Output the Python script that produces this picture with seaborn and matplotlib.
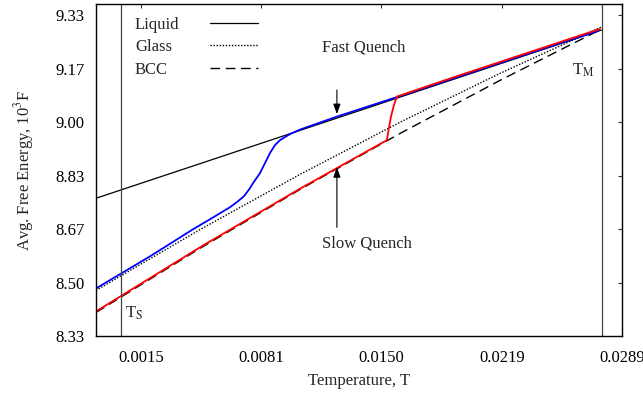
import numpy as np
import matplotlib
matplotlib.use('Agg')
import matplotlib.pyplot as plt
import matplotlib.ticker as mticker
from matplotlib.lines import Line2D
import seaborn as sns

# === data ===
# liquid free energy (straight extrapolation)
liq_T = [-0.001062, 0.01266, 0.02775]
liq_F = [8.7630, 9.0130, 9.2880]

# glass free energy
glass_T = [-0.001062, 0.004859, 0.010553, 0.016247, 0.021941, 0.027806]
glass_F = [8.4755, 8.6652, 8.8374, 8.9999, 9.1524, 9.2992]

# bcc free energy
bcc_T = [-0.001062, 0.004859, 0.010553, 0.016247, 0.021941, 0.027749]
bcc_F = [8.4067, 8.6067, 8.7902, 8.9649, 9.1305, 9.2911]

# fast quench run (blue)
fast_T = [-0.001062, 0.002012, 0.004461, 0.005429, 0.005998, 0.006568, 0.007023,
          0.007365, 0.007706, 0.007877, 0.008276, 0.008561, 0.008845, 0.009130,
          0.009415, 0.009984, 0.010553, 0.012660, 0.016247, 0.019094, 0.021941,
          0.024788, 0.027522]
fast_F = [8.4817, 8.5817, 8.6661, 8.6974, 8.7161, 8.7349, 8.7536,
          8.7692, 8.7942, 8.8099, 8.8411, 8.8724, 8.9036, 8.9286,
          8.9442, 8.9630, 8.9771, 9.0177, 9.0817, 9.1333, 9.1849,
          9.2364, 9.2849]

# slow quench run (red)
slow_T = [-0.001062, 0.004859, 0.010553, 0.015507, 0.015621, 0.015735, 0.015906,
          0.016077, 0.019094, 0.021941, 0.024788, 0.027635]
slow_F = [8.4099, 8.6099, 8.7927, 8.9442, 8.9817, 9.0161, 9.0536,
          9.0802, 9.1364, 9.1880, 9.2396, 9.2911]

T_S, T_M = 0.000344, 0.027789

xtick_pos = [0.0015, 0.00835, 0.0152, 0.02205, 0.0289]
xtick_lbl = ['0.0015', '0.0081', '0.0150', '0.0219', '0.0289']
ytick_pos = [8.3333, 8.5, 8.6667, 8.8333, 9.0, 9.1667, 9.3333]

# === style ===
sns.set_theme(style='white')
plt.rcParams['font.family'] = ['Liberation Serif', 'DejaVu Serif']
plt.rcParams['mathtext.fontset'] = 'stix'
FS = 12

fig = plt.figure(figsize=(6.43, 3.98), dpi=100)
ax = fig.add_axes([96/643, 62/398, 526/643, 332/398])

# reference curves
sns.lineplot(x=liq_T, y=liq_F, ax=ax, color='black', lw=0.9, estimator=None)
sns.lineplot(x=glass_T, y=glass_F, ax=ax, color='black', lw=1.0, estimator=None)
ax.lines[-1].set_linestyle((0, (1, 1.2)))
sns.lineplot(x=bcc_T, y=bcc_F, ax=ax, color='black', lw=1.0, estimator=None)
ax.lines[-1].set_linestyle((0, (7, 4)))

# simulation runs
sns.lineplot(x=fast_T, y=fast_F, ax=ax, color='#0000ff', lw=1.3, estimator=None)
sns.lineplot(x=slow_T, y=slow_F, ax=ax, color='#ff0000', lw=1.3, estimator=None)

# T_S and T_M
ax.axvline(T_S, color='#444444', lw=0.9)
ax.axvline(T_M, color='#444444', lw=0.9)
ax.text(0.000589, 8.3911, r'T$_\mathrm{S}$', fontsize=FS, va='baseline', ha='left')
ax.text(0.026041, 9.1474, r'T$_\mathrm{M}$', fontsize=FS, va='baseline', ha='left')

# annotations
arw = dict(arrowstyle='-|>,head_length=0.5,head_width=0.18', color='black', lw=0.8,
           shrinkA=0, shrinkB=0)
ax.annotate('', xy=(0.01266, 9.0255), xytext=(0.01266, 9.1005), arrowprops=arw)
ax.text(0.014198, 9.2202, 'Fast Quench', fontsize=FS, ha='center', va='baseline')
ax.annotate('', xy=(0.01266, 8.8599), xytext=(0.01266, 8.6724), arrowprops=arw)
ax.text(0.014368, 8.6108, 'Slow Quench', fontsize=FS, ha='center', va='baseline')

# axes
ax.set_xlim(-0.001062, 0.0289)
ax.set_ylim(8.3333, 9.369)
ax.set_xticks(xtick_pos)
ax.set_xticklabels(xtick_lbl)
ax.set_yticks(ytick_pos)
ax.yaxis.set_major_formatter(mticker.FormatStrFormatter('%.2f'))
ax.tick_params(direction='in', top=True, right=True, length=3, width=0.8,
               color='#333333', labelsize=FS, labelcolor='black')
ax.tick_params(axis='x', pad=10)
ax.tick_params(axis='y', pad=8)
for s in ax.spines.values():
    s.set_color('black')
    s.set_linewidth(1.0)
ax.set_xlabel('Temperature, T', fontsize=FS, labelpad=5)
ax.set_ylabel(r'Avg. Free Energy, 10$^{3}$F', fontsize=FS, labelpad=14)

# legend: labels left-aligned, keys in their own column
names = ['Liquid', 'Glass', 'BCC']
keys = [Line2D([], [], color='black', lw=0.9),
        Line2D([], [], color='black', lw=1.0, ls=(0, (1, 1.2))),
        Line2D([], [], color='black', lw=1.0, ls=(0, (7, 4)))]
blank = [Line2D([], [], color='none') for _ in names]
leg1 = ax.legend(blank, names, loc='upper left', bbox_to_anchor=(0.0741, 0.962),
                 frameon=False, handlelength=0, handletextpad=0, borderpad=0,
                 borderaxespad=0, labelspacing=0.4, fontsize=FS)
ax.add_artist(leg1)
ax.legend(keys, [' '] * 3, loc='upper left', bbox_to_anchor=(0.2167, 0.962),
          frameon=False, handlelength=2.9, handletextpad=0, borderpad=0,
          borderaxespad=0, labelspacing=0.4, fontsize=FS)

fig.savefig('out.png', dpi=100)
